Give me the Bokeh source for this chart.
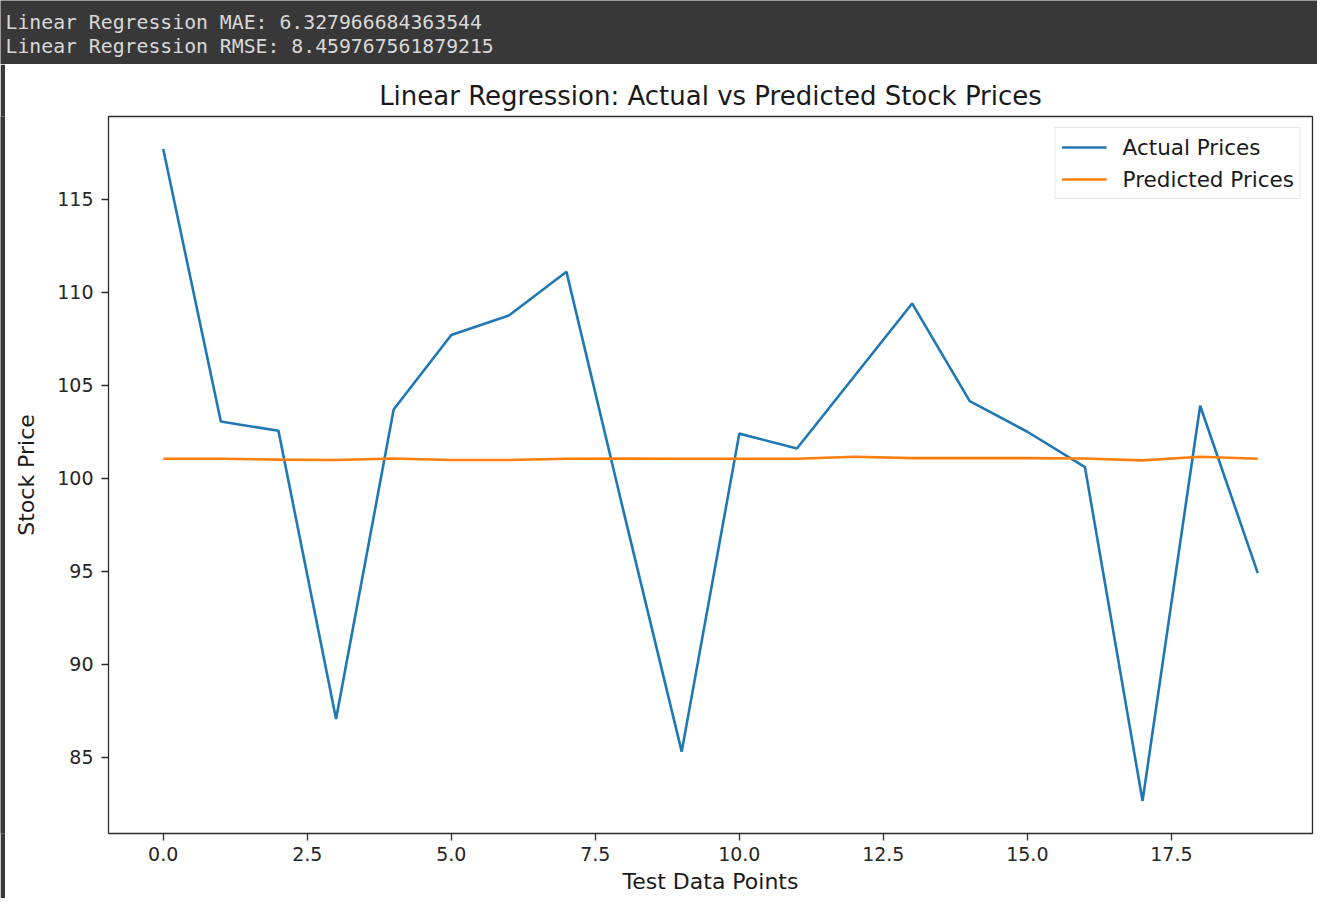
from bokeh.plotting import figure
from bokeh.layouts import column, row
from bokeh.models import Range1d, FixedTicker, PrintfTickFormatter, Legend, LegendItem
from bokeh.core.properties import value
from bokeh.embed import file_html
from bokeh.resources import INLINE

# ---- data ----
header_lines = ["Linear Regression MAE: 6.327966684363544",
                "Linear Regression RMSE: 8.459767561879215"]
test_points = list(range(20))
actual_prices = [117.7, 103.05, 102.55, 87.05, 103.7, 107.7, 108.75, 111.1, 98.1, 85.3,
                 102.4, 101.6, 105.5, 109.4, 104.15, 102.5, 100.6, 82.65, 103.9, 94.9]
predicted_prices = [101.05, 101.05, 101.0, 100.98, 101.06, 100.98, 100.98, 101.05, 101.06, 101.05,
                    101.05, 101.05, 101.16, 101.08, 101.08, 101.08, 101.06, 100.96, 101.16, 101.05]
x_ticks = [0, 2.5, 5, 7.5, 10, 12.5, 15, 17.5]
y_ticks = [85, 90, 95, 100, 105, 110, 115]
title_text = "Linear Regression: Actual vs Predicted Stock Prices"
x_label = "Test Data Points"
y_label = "Stock Price"
series_names = ["Actual Prices", "Predicted Prices"]

DARK = "#383838"
FONT = "DejaVu Sans"
TOTAL_W = 1317
HEADER_H = 64
MAIN_H = 834
STRIP_W = 5

# ---- header (notebook output text) ----
header = figure(width=TOTAL_W, height=HEADER_H, x_range=Range1d(0, TOTAL_W), y_range=Range1d(HEADER_H, 0),
                x_axis_type=None, y_axis_type=None, toolbar_location=None, output_backend="svg",
                min_border=0, background_fill_color=DARK, border_fill_color=DARK, outline_line_color=None)
header.grid.visible = False
header.text(x=[5, 5], y=[22, 46], text=header_lines, text_font=value("DejaVu Sans Mono"),
            text_font_size="19.8px", text_color="#d8d8d8", text_baseline="alphabetic")

# ---- left dark strip ----
strip = figure(width=STRIP_W, height=MAIN_H, x_range=Range1d(0, 1), y_range=Range1d(0, 1),
               x_axis_type=None, y_axis_type=None, toolbar_location=None, output_backend="svg",
               min_border=0, background_fill_color=DARK, border_fill_color=DARK, outline_line_color=None)
strip.grid.visible = False

# ---- main chart ----
x_lo, x_hi = min(test_points), max(test_points)
allv = actual_prices + predicted_prices
y_lo, y_hi = min(allv), max(allv)
xp = 0.05 * (x_hi - x_lo)
yp = 0.05 * (y_hi - y_lo)

p = figure(width=TOTAL_W - STRIP_W, height=MAIN_H,
           x_range=Range1d(x_lo - xp, x_hi + xp), y_range=Range1d(y_lo - yp, y_hi + yp),
           toolbar_location=None, output_backend="svg",
           min_border_left=103, min_border_right=5, min_border_top=52, min_border_bottom=65,
           background_fill_color="white", border_fill_color="white")
p.title.text = title_text
p.title.align = "center"
p.title.text_font = FONT
p.title.text_font_size = "26px"
p.title.text_font_style = "normal"
p.title.text_color = "#1a1a1a"
p.title.standoff = 12

p.grid.visible = False
p.outline_line_color = "#2b2b2b"
p.outline_line_width = 1.3

for ax in (p.xaxis[0], p.yaxis[0]):
    ax.axis_line_color = None
    ax.major_tick_in = 0
    ax.major_tick_out = 7
    ax.major_tick_line_color = "#2b2b2b"
    ax.major_tick_line_width = 1.3
    ax.minor_tick_line_color = None
    ax.major_label_text_font = FONT
    ax.major_label_text_font_size = "19px"
    ax.major_label_text_color = "#262626"
    ax.axis_label_text_font = FONT
    ax.axis_label_text_font_size = "22px"
    ax.axis_label_text_font_style = "normal"
    ax.axis_label_text_color = "#1a1a1a"

p.xaxis.ticker = FixedTicker(ticks=x_ticks)
p.xaxis.formatter = PrintfTickFormatter(format="%.1f")
p.yaxis.ticker = FixedTicker(ticks=y_ticks)
p.xaxis.axis_label = x_label
p.yaxis.axis_label = y_label
p.xaxis.major_label_standoff = 6
p.xaxis.axis_label_standoff = 5
p.yaxis.major_label_standoff = 8
p.yaxis.axis_label_standoff = 15

r1 = p.line(test_points, actual_prices, line_color="#1f77b4", line_width=2.6)
r2 = p.line(test_points, predicted_prices, line_color="#ff7f0e", line_width=2.6)

legend = Legend(items=[LegendItem(label=series_names[0], renderers=[r1]),
                       LegendItem(label=series_names[1], renderers=[r2])],
                location="top_right", margin=11, padding=6, spacing=6,
                glyph_width=45, glyph_height=26, label_height=26, label_standoff=16,
                label_text_font=FONT, label_text_font_size="21.5px", label_text_color="#1a1a1a",
                border_line_color="#d0d0d0", border_line_width=1,
                background_fill_color="white", background_fill_alpha=0.8)
p.add_layout(legend)

layout = column(header, row(strip, p))
open("out.html", "w").write(file_html(layout, INLINE))
